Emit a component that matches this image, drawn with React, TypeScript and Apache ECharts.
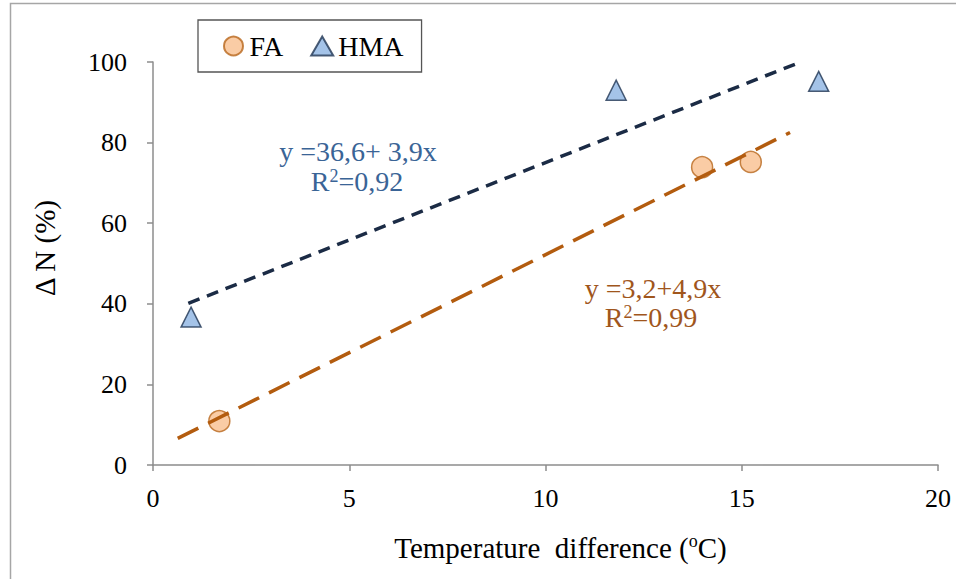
import React, { useEffect, useRef } from "react";
import * as echarts from "echarts";

// ---- data ----
const SERIES_NAMES = ["FA", "HMA"];
const FA_X = [1.69, 13.99, 15.23];
const FA_Y = [10.9, 73.9, 75.2];
const HMA_X = [0.97, 11.8, 16.96];
const HMA_Y = [36.7, 93.0, 95.2];
const FA_TREND_X = [0.63, 16.23];
const FA_TREND_Y = [6.6, 82.5];
const HMA_TREND_X = [0.9, 16.5];
const HMA_TREND_Y = [40.1, 100];
const X_TICKS = [0, 5, 10, 15, 20];
const Y_TICKS = [0, 20, 40, 60, 80, 100];
const FA_EQ = ["y =3,2+4,9x", "0,99"];
const HMA_EQ = ["y =36,6+ 3,9x", "0,92"];
const X_NAME = ["Temperature  difference (", "o", "C)"];
const Y_NAME = "\u0394 N (%)";

const FONT = "Liberation Serif, serif";

const zip = (xs: number[], ys: number[]) => xs.map((x, i) => [x, ys[i]]);

export default function App() {
  const ref = useRef<HTMLDivElement>(null);
  useEffect(() => {
    if (!ref.current) return;
    const chart = echarts.init(ref.current, undefined, { renderer: "svg" });
    const eqRich = (color: string) => ({
      t: { fontFamily: FONT, fontSize: 28, fill: color, lineHeight: 28 },
      s: { fontFamily: FONT, fontSize: 18, fill: color, lineHeight: 18, verticalAlign: "top" as const },
    });
    const eqText = (x: number, y: number, text: string, color: string) => ({
      type: "text",
      x,
      y,
      style: {
        text,
        rich: eqRich(color),
        fill: color,
        fontFamily: FONT,
        fontSize: 28,
        align: "center",
        verticalAlign: "middle",
      },
    });
    chart.setOption({
      animation: false,
      backgroundColor: "#ffffff",
      textStyle: { fontFamily: FONT },
      grid: { left: 153, right: 18, top: 62, bottom: 114, containLabel: false },
      legend: {
        data: SERIES_NAMES,
        left: 198,
        top: 20,
        orient: "horizontal",
        padding: [12, 18, 12, 25],
        itemWidth: 22,
        itemHeight: 19,
        itemGap: 27,
        borderColor: "#555555",
        borderWidth: 1.3,
        textStyle: { fontFamily: FONT, fontSize: 28, color: "#000" },
      },
      xAxis: {
        type: "value",
        min: X_TICKS[0],
        max: X_TICKS[X_TICKS.length - 1],
        interval: X_TICKS[1] - X_TICKS[0],
        splitLine: { show: false },
        axisLine: { show: true, onZero: false, lineStyle: { color: "#8c8c8c", width: 1.5 } },
        axisTick: { show: true, inside: false, length: 6, lineStyle: { color: "#8c8c8c", width: 1.5 } },
        axisLabel: { fontFamily: FONT, fontSize: 26, color: "#000", margin: 20 },
        name: `{t|${X_NAME[0]}}{s|${X_NAME[1]}}{t|${X_NAME[2]}}`,
        nameLocation: "middle",
        nameGap: 67,
        nameTextStyle: {
          padding: [0, 0, 0, 30],
          rich: {
            t: { fontFamily: FONT, fontSize: 29, color: "#000", lineHeight: 31 },
            s: { fontFamily: FONT, fontSize: 18, color: "#000", lineHeight: 19, verticalAlign: "top" },
          },
        },
      },
      yAxis: {
        type: "value",
        min: Y_TICKS[0],
        max: Y_TICKS[Y_TICKS.length - 1],
        interval: Y_TICKS[1] - Y_TICKS[0],
        splitLine: { show: false },
        axisLine: { show: true, onZero: false, lineStyle: { color: "#8c8c8c", width: 1.5 } },
        axisTick: { show: true, inside: false, length: 6, lineStyle: { color: "#8c8c8c", width: 1.5 } },
        axisLabel: { fontFamily: FONT, fontSize: 26, color: "#000", margin: 26 },
      },
      series: [
        {
          name: SERIES_NAMES[0],
          type: "scatter",
          symbol: "circle",
          symbolSize: 21,
          z: 2,
          data: zip(FA_X, FA_Y),
          itemStyle: { color: "#F9BF8F", borderColor: "#B8661C", borderWidth: 1.5 },
        },
        {
          name: SERIES_NAMES[1],
          type: "scatter",
          symbol: "triangle",
          symbolSize: 20,
          z: 2,
          data: zip(HMA_X, HMA_Y),
          itemStyle: { color: "#8DB4E2", borderColor: "#1F3553", borderWidth: 1.5 },
        },
        {
          name: "FA trend",
          type: "line",
          showSymbol: false,
          symbol: "none",
          z: 3,
          data: zip(FA_TREND_X, FA_TREND_Y),
          lineStyle: { color: "#B35C0F", width: 3.5, type: [23, 11], cap: "butt" },
        },
        {
          name: "HMA trend",
          type: "line",
          showSymbol: false,
          symbol: "none",
          z: 3,
          data: zip(HMA_TREND_X, HMA_TREND_Y),
          lineStyle: { color: "#1B2B45", width: 3.5, type: [12, 8], cap: "butt" },
        },
      ],
      graphic: [
        {
          type: "rect",
          silent: true,
          shape: { x: 10.5, y: 3.5, width: 1000, height: 1000 },
          style: { fill: "none", stroke: "#a6a6a6", lineWidth: 1.5 },
          z: -1,
        },
        {
          type: "text",
          x: 45,
          y: 248,
          rotation: Math.PI / 2,
          style: {
            text: Y_NAME,
            fontFamily: FONT,
            fontSize: 29,
            fill: "#000",
            align: "center",
            verticalAlign: "middle",
          },
        },
        eqText(358, 151, `{t|${HMA_EQ[0]}}`, "#3A6496"),
        eqText(357, 181, `{t|R}{s|2}{t|=${HMA_EQ[1]}}`, "#3A6496"),
        eqText(653, 288, `{t|${FA_EQ[0]}}`, "#A0561C"),
        eqText(651, 317, `{t|R}{s|2}{t|=${FA_EQ[1]}}`, "#A0561C"),
      ],
    });
    return () => chart.dispose();
  }, []);
  return (
    <div
      ref={ref}
      style={{ position: "fixed", left: 0, top: 0, width: 956, height: 579, background: "#fff" }}
    />
  );
}
